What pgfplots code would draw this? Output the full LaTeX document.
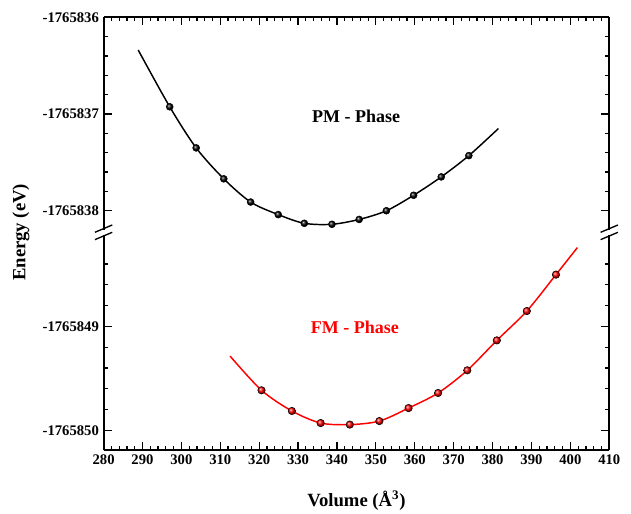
\documentclass[border=0pt]{standalone}
\usepackage{fontspec}
\setmainfont{Liberation Serif}
\usepackage{pgfplots}
\pgfplotsset{compat=1.18}

% energies are stored as offsets: upper panel E+1765836, lower panel E+1765849 (eV)
\pgfplotsset{
  base/.style={
    scale only axis, width=379.3pt,
    xmin=280, xmax=410,
    xtick={280,290,...,410}, minor x tick num=4,
    tick align=inside, major tick length=6pt, minor tick length=3pt,
    axis line style={line width=1.4pt},
    tick style={black,line width=0.9pt},
    tick label style={font=\fontsize{11}{12}\selectfont\bfseries},
    /pgf/number format/assume math mode=true,
    yticklabel pos=left, clip=false,
  }
}

\begin{document}
\begin{tikzpicture}[font=\bfseries]
\begin{axis}[base, name=upper, height=161.25pt, axis x line*=top,
  xticklabels={},
  ymin=-2.223, ymax=0, ytick={0,-1,-2},
  yticklabels={-1765836,-1765837,-1765838},
  minor ytick={-0.2,-0.4,-0.6,-0.8,-1.2,-1.4,-1.6,-1.8}]
\addplot[black, line width=1.1pt, smooth] coordinates {
  (288.9,-0.338)(297.0,-0.925)(303.8,-1.35)(310.9,-1.67)(317.8,-1.91)
  (324.9,-2.04)(331.6,-2.13)(338.7,-2.14)(345.7,-2.09)(352.7,-2.00)
  (359.7,-1.84)(366.8,-1.65)(373.9,-1.43)(381.5,-1.15)};
\addplot[only marks, mark=ball, mark size=2.6pt, ball color=black,
  mark options={draw=none}] coordinates {
  (297.0,-0.925)(303.8,-1.35)(310.9,-1.67)(317.8,-1.91)(324.9,-2.04)
  (331.6,-2.13)(338.7,-2.14)(345.7,-2.09)(352.7,-2.00)(359.7,-1.84)
  (366.8,-1.65)(373.9,-1.43)};
\node[font=\fontsize{13.5}{15}\selectfont\bfseries] at (axis cs:344.9,-1.02) {PM - Phase};
\end{axis}

\begin{axis}[base, name=lower, at={(upper.south west)}, anchor=north west,
  height=163.5pt, axis x line*=bottom,
  ymin=-1.192, ymax=0.904, ytick={0,-1},
  yticklabels={-1765849,-1765850},
  minor ytick={0.6,0.4,0.2,-0.2,-0.4,-0.6,-0.8}]
\addplot[red, line width=1.1pt, smooth] coordinates {
  (312.5,-0.286)(320.6,-0.615)(328.4,-0.814)(335.8,-0.930)(343.3,-0.945)
  (350.9,-0.911)(358.4,-0.786)(366.0,-0.641)(373.5,-0.423)(381.1,-0.135)
  (388.8,0.147)(396.3,0.497)(401.8,0.757)};
\addplot[only marks, mark=ball, mark size=2.8pt, ball color=red,
  mark options={draw=none}] coordinates {
  (320.6,-0.615)(328.4,-0.814)(335.8,-0.930)(343.3,-0.945)(350.9,-0.911)
  (358.4,-0.786)(366.0,-0.641)(373.5,-0.423)(381.1,-0.135)(388.8,0.147)
  (396.3,0.497)};
\node[red, font=\fontsize{13.5}{15}\selectfont\bfseries] at (axis cs:344.6,-0.01) {FM - Phase};
\end{axis}

% axis break marks
\foreach \a in {upper.south west, upper.south east} {
  \begin{scope}[shift={(\a)}]
    \fill[white] (-1.2pt,-1.7pt) rectangle (1.2pt,1.7pt);
    \draw[line width=1pt] (-6.5pt,-5.5pt) -- (6.5pt,0pt);
    \draw[line width=1pt] (-6.5pt,0pt) -- (6.5pt,5.5pt);
  \end{scope}
}

\node[rotate=90, font=\fontsize{14}{16}\selectfont\bfseries] at ([xshift=-62pt]upper.south west) {Energy (eV)};
\node[font=\fontsize{14}{16}\selectfont\bfseries] at ([yshift=-37.5pt]lower.south) {Volume (Å\textsuperscript{3})};

\pgfresetboundingbox
\path[use as bounding box] ([xshift=-77.7pt,yshift=13pt]upper.north west) rectangle ([xshift=16.3pt,yshift=-47.25pt]lower.south east);
\end{tikzpicture}
\end{document}
